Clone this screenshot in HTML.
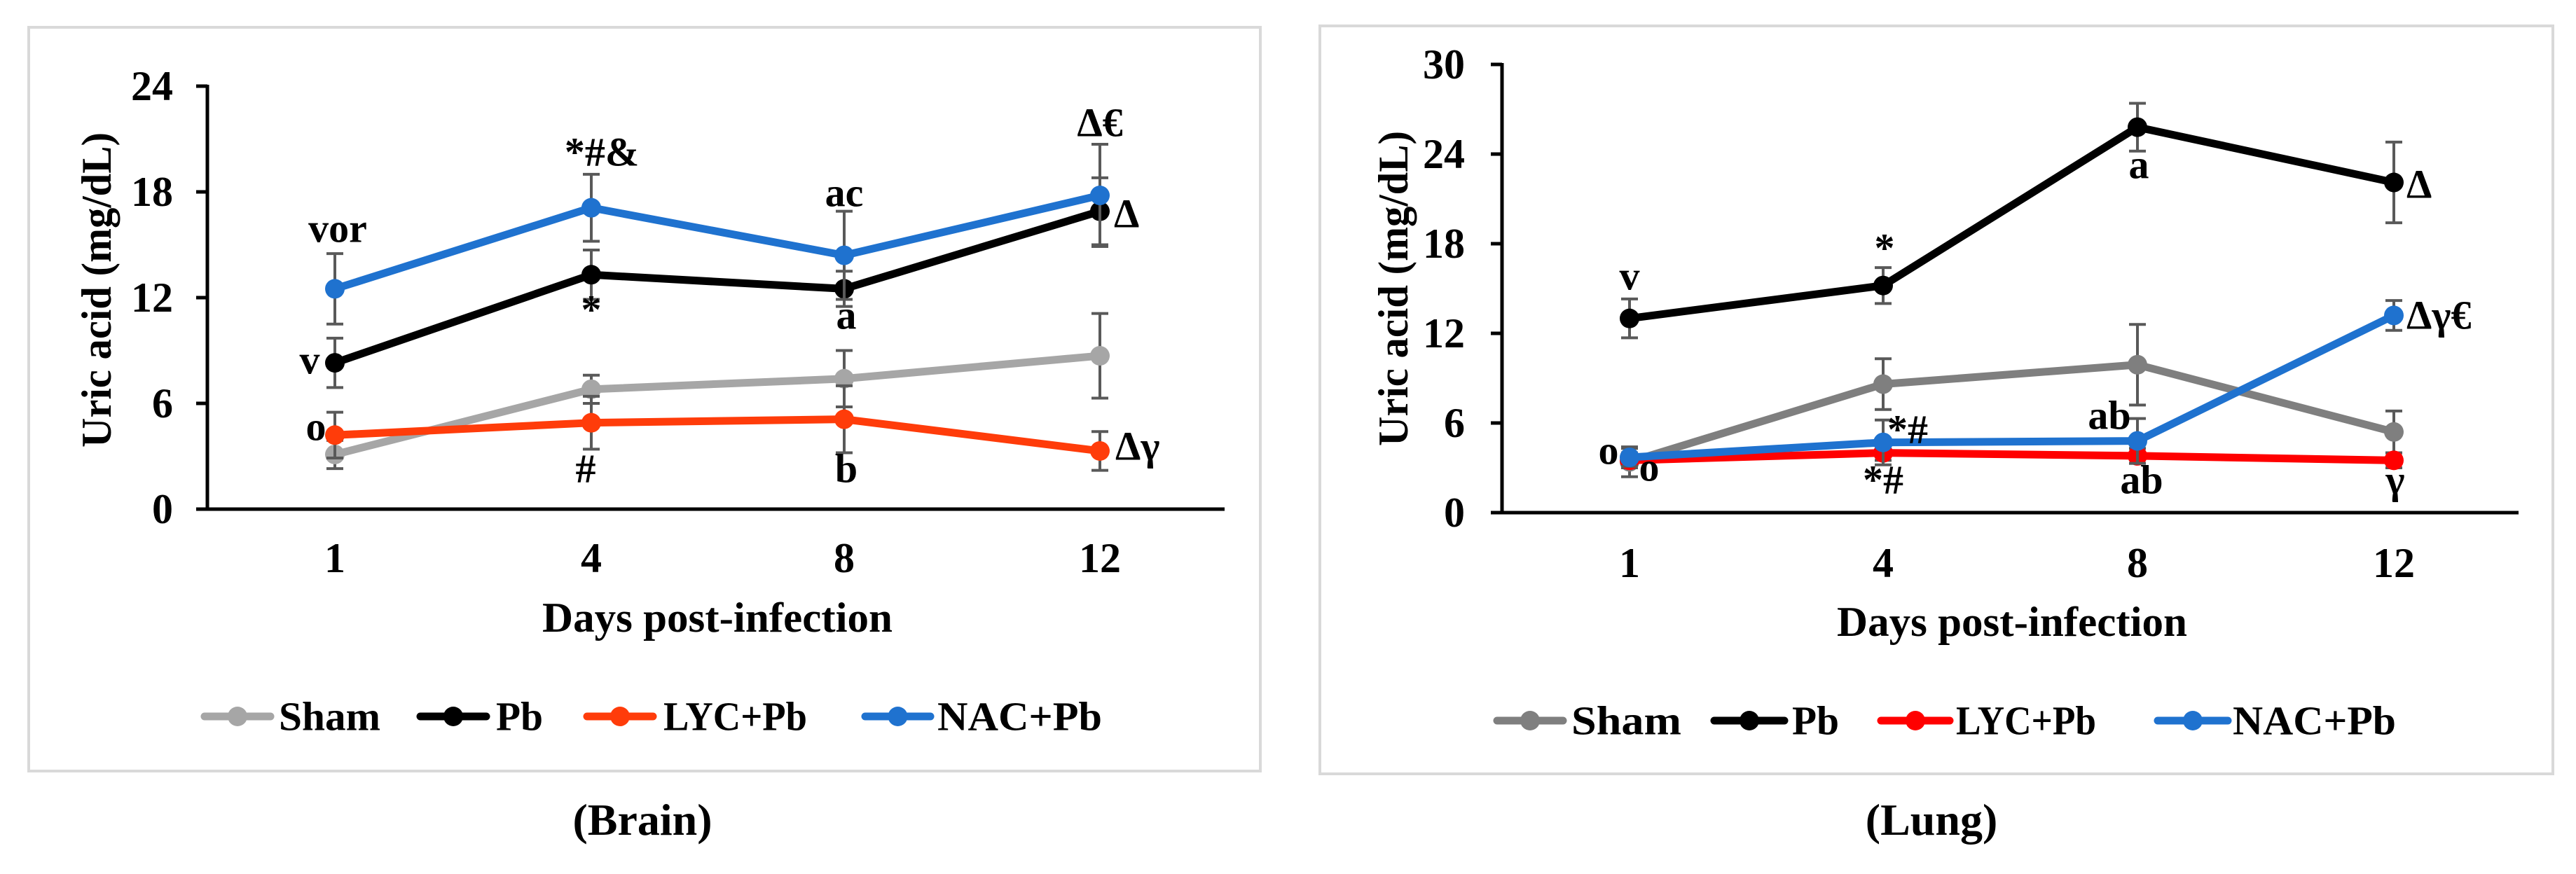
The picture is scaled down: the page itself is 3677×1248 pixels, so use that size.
<!DOCTYPE html>
<html><head><meta charset="utf-8">
<style>
html,body{margin:0;padding:0;background:#fff;}
svg{display:block;}
text{font-family:"Liberation Serif",serif;font-weight:bold;fill:#000;}
</style></head>
<body>
<svg id="fig" width="3677" height="1248" viewBox="0 0 3677 1248" xmlns="http://www.w3.org/2000/svg">
  <rect x="41" y="39" width="1758" height="1062" fill="#fff" stroke="#d9d9d9" stroke-width="4"/>
  <rect x="1884" y="37" width="1760" height="1068" fill="#fff" stroke="#d9d9d9" stroke-width="4"/>
  <g id="brain"></g>
  <g id="lung"></g>
  <text x="917" y="1192" font-size="64" text-anchor="middle">(Brain)</text>
  <text x="2757" y="1192" font-size="64" text-anchor="middle">(Lung)</text>
</svg>
<script>
// ---- shared data ----
const days = ["1","4","8","12"];
const seriesNames = ["Sham","Pb","LYC+Pb","NAC+Pb"];
// Brain
const brainTicks = [0,6,12,18,24];
const brainSham = [3.1,6.8,7.4,8.7];
const brainPb = [8.3,13.3,12.5,16.9];
const brainLyc = [4.2,4.9,5.1,3.3];
const brainNac = [12.5,17.1,14.4,17.8];
const brainShamErr = [0.8,0.8,1.6,2.4];
const brainPbErr = [1.4,1.4,1.0,1.9];
const brainLycErr = [1.3,1.5,1.9,1.1];
const brainNacErr = [2.0,1.9,2.5,2.9];
// Lung
const lungTicks = [0,6,12,18,24,30];
const lungSham = [3.4,8.6,9.9,5.4];
const lungPb = [13.0,15.2,25.8,22.1];
const lungLyc = [3.5,4.0,3.8,3.5];
const lungNac = [3.7,4.7,4.8,13.2];
const lungShamErr = [1.0,1.7,2.7,1.4];
const lungPbErr = [1.3,1.2,1.6,2.7];
const lungLycErr = [0.5,0.5,0.5,0.5];
const lungNacErr = [0.6,1.5,1.5,1.0];

const NS="http://www.w3.org/2000/svg";
function mk(parent,tag,attrs){const e=document.createElementNS(NS,tag);for(const k in attrs)e.setAttribute(k,attrs[k]);parent.appendChild(e);return e;}

function drawChart(g,cfg){
  const y=v=>cfg.y0+(cfg.yTop-cfg.y0)*(v/cfg.yMax);
  const x=i=>cfg.xs[i];
  const ya=mk(g,'line',{x1:cfg.ax,y1:y(cfg.yMax)-2,x2:cfg.ax,y2:cfg.y0,stroke:'#000','stroke-width':5});
  
  
  const xa=mk(g,'line',{x1:cfg.ax-16,y1:cfg.y0,x2:cfg.axEnd,y2:cfg.y0,stroke:'#000','stroke-width':5});
  
  
  cfg.ticks.forEach(t=>{
    const tl=mk(g,'line',{x1:cfg.ax-16,y1:y(t),x2:cfg.ax,y2:y(t),stroke:'#000','stroke-width':5});
    
    
    const tx=mk(g,'text',{x:cfg.tickRight,y:y(t),'font-size':60,'text-anchor':'end','dominant-baseline':'central'});
    tx.textContent=String(t);
    
    
  });
  days.forEach((d,i)=>{
    const tx=mk(g,'text',{x:x(i),y:cfg.xLabelY,'font-size':60,'text-anchor':'middle','dominant-baseline':'central'});
    tx.textContent=d;
    
    
  });
  const xt=mk(g,'text',{x:cfg.xTitleX,y:cfg.xTitleY,'font-size':60,'text-anchor':'middle','dominant-baseline':'central',textLength:500,lengthAdjust:'spacingAndGlyphs'});
  xt.textContent='Days post-infection';
  
  
  const yt=mk(g,'text',{x:0,y:0,'font-size':60,'text-anchor':'middle','dominant-baseline':'central',transform:`translate(${cfg.yTitleX},${cfg.yTitleY}) rotate(-90)`,textLength:450,lengthAdjust:'spacingAndGlyphs'});
  yt.textContent='Uric acid (mg/dL)';
  
  
  cfg.series.forEach((s,si)=>{
    const sg=mk(g,'g',{});
    
    
    s.vals.forEach((v,i)=>{
      const e=s.err[i];
      const eb=mk(sg,'path',{d:`M${x(i)},${y(v+e)}V${y(v-e)}M${x(i)-12},${y(v+e)}h24M${x(i)-12},${y(v-e)}h24`,stroke:'#595959','stroke-width':4,fill:'none'});
      
      
    });
    const pts=s.vals.map((v,i)=>`${x(i)},${y(v)}`).join(' ');
    const pl=mk(sg,'polyline',{points:pts,fill:'none',stroke:s.color,'stroke-width':11,'stroke-linejoin':'round'});
    
    
    s.vals.forEach((v,i)=>{
      const c=mk(sg,'circle',{cx:x(i),cy:y(v),r:14,fill:s.color});
      
      
    });
  });
  cfg.legend.forEach((L,i)=>{
    const lg=mk(g,'g',{});
    
    
    mk(lg,'line',{x1:L[0],y1:cfg.legY,x2:L[1],y2:cfg.legY,stroke:cfg.series[i].color,'stroke-width':11,'stroke-linecap':'round'});
    mk(lg,'circle',{cx:(L[0]+L[1])/2,cy:cfg.legY,r:14,fill:cfg.series[i].color});
    const t=mk(lg,'text',{x:L[2],y:cfg.legY,'font-size':58,'dominant-baseline':'central',textLength:L[3],lengthAdjust:'spacingAndGlyphs'});
    t.textContent=seriesNames[i];
  });
  cfg.notes.forEach(n=>{
    const t=mk(g,'text',{x:n[1],y:n[2],'font-size':58,'text-anchor':n[3]||'middle','dominant-baseline':'central'});
    t.textContent=n[0];
    
    
  });
}

drawChart(document.getElementById('brain'),{
  y0:727,yTop:123,yMax:24,ax:296,axEnd:1748,xs:[478,844,1205,1570],ticks:brainTicks,tickRight:247,
  xLabelY:797,xTitleX:1024,xTitleY:882,yTitleX:138,yTitleY:414,legY:1023,
  series:[
    {vals:brainSham,err:brainShamErr,color:'#a6a6a6'},
    {vals:brainPb,err:brainPbErr,color:'#000000'},
    {vals:brainLyc,err:brainLycErr,color:'#ff3c0a'},
    {vals:brainNac,err:brainNacErr,color:'#1f72cf'}],
  legend:[[292,386,398,145],[600,694,708,67],[838,932,947,205],[1235,1328,1338,235]],
  notes:[["vor",482,326],["*#&",859,217],["ac",1205,275],["Δ€",1570,175],["Δ",1590,305,"start"],["v",442,514],["*",844,442],["a",1208,450],["o",451,609],["#",836,669],["b",1208,669],["Δγ",1592,637,"start"]]
});
drawChart(document.getElementById('lung'),{
  y0:732,yTop:92,yMax:30,ax:2144,axEnd:3595,xs:[2326,2688,3051,3417],ticks:lungTicks,tickRight:2091,
  xLabelY:804,xTitleX:2872,xTitleY:888,yTitleX:1989,yTitleY:412,legY:1029,
  series:[
    {vals:lungSham,err:lungShamErr,color:'#7f7f7f'},
    {vals:lungPb,err:lungPbErr,color:'#000000'},
    {vals:lungLyc,err:lungLycErr,color:'#ff0000'},
    {vals:lungNac,err:lungNacErr,color:'#1f72cf'}],
  legend:[[2137,2231,2243,157],[2447,2547,2558,67],[2685,2783,2792,200],[3080,3180,3187,233]],
  notes:[["v",2326,394],["*",2690,354],["a",3053,235],["Δ",3435,263,"start"],["Δγ€",3435,450,"start"],["ab",3011,593],["*#",2723,613],["o",2296,643],["o",2354,667],["*#",2688,685],["ab",3057,685],["γ",3419,685]]
});
</script>
</body></html>
